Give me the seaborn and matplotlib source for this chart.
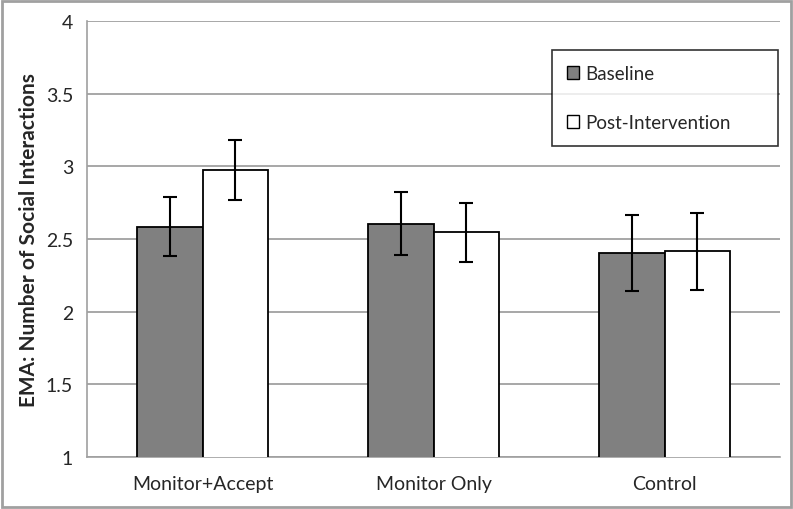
import pandas as pd
import matplotlib
matplotlib.use("Agg")
import matplotlib.pyplot as plt
import seaborn as sns
from matplotlib.patches import Rectangle, Patch

# values
groups = ["Monitor+Accept", "Monitor Only", "Control"]
phases = ["Baseline", "Post-Intervention"]
baseline = [2.585, 2.605, 2.405]
post = [2.975, 2.545, 2.415]
baseline_err = [0.205, 0.215, 0.26]
post_err = [0.205, 0.205, 0.265]

df = pd.DataFrame({
    "group": groups * 2,
    "phase": [phases[0]] * 3 + [phases[1]] * 3,
    "value": baseline + post,
    "err": baseline_err + post_err,
})

sns.set_style("white")
plt.rcParams["font.family"] = ["Lato", "DejaVu Sans"]

fig = plt.figure(figsize=(7.93, 5.10), dpi=100)
ax = fig.add_axes([0.1097, 0.102, 0.874, 0.855])

sns.barplot(
    data=df, x="group", y="value", hue="phase",
    order=groups, hue_order=phases,
    palette={"Baseline": "#808080", "Post-Intervention": "#ffffff"},
    edgecolor="black", linewidth=1.3, width=0.57,
    errorbar=None, legend=False, ax=ax, zorder=3,
)

# error bars at the bar centres
for bars, ph in zip(ax.containers, phases):
    sub = df[df["phase"] == ph].set_index("group").loc[groups]
    xs = [b.get_x() + b.get_width() / 2 for b in bars]
    ax.errorbar(xs, sub["value"], yerr=sub["err"], fmt="none",
                ecolor="black", elinewidth=1.5, capsize=5, capthick=1.5, zorder=4)

ax.set_xlim(-0.5, 2.5)
ax.set_ylim(1, 4)
ax.set_yticks([1, 1.5, 2, 2.5, 3, 3.5, 4])
ax.set_yticklabels(["1", "1.5", "2", "2.5", "3", "3.5", "4"])
ax.yaxis.grid(True, color="#a0a0a0", linewidth=1.3, zorder=0)
ax.set_axisbelow(True)

ax.set_xticks([-0.5, 0.5, 1.5, 2.5], minor=True)
ax.tick_params(axis="x", which="major", length=0, labelsize=14, pad=13)
ax.tick_params(axis="x", which="minor", length=6, color="#a0a0a0", width=1.2)
ax.tick_params(axis="y", length=6, color="#a0a0a0", width=1.2, labelsize=14, pad=4)

ax.set_xlabel("")
ax.set_ylabel("EMA: Number of Social Interactions", fontsize=15,
              fontweight="bold", labelpad=5)

for side in ["top", "right"]:
    ax.spines[side].set_visible(False)
for side in ["left", "bottom"]:
    ax.spines[side].set_color("#a0a0a0")
    ax.spines[side].set_linewidth(1.2)

handles = [Patch(facecolor="#808080", edgecolor="black", linewidth=1),
           Patch(facecolor="white", edgecolor="black", linewidth=1)]
leg = ax.legend(handles, phases, loc="upper left",
                bbox_to_anchor=(0.671, 0.933, 0.326, 0.0), mode="expand",
                frameon=True, fancybox=False, fontsize=13.5,
                handlelength=0.65, handleheight=0.65, handletextpad=0.3,
                labelspacing=1.7, borderpad=0.8, borderaxespad=0)
leg.get_frame().set_edgecolor("black")
leg.get_frame().set_linewidth(1.2)
leg.set_zorder(5)

fig.patches.append(Rectangle((0.002, 0.003), 0.996, 0.994, transform=fig.transFigure,
                             fill=False, edgecolor="#a0a0a0", linewidth=2))

fig.savefig("out.png", dpi=100)
